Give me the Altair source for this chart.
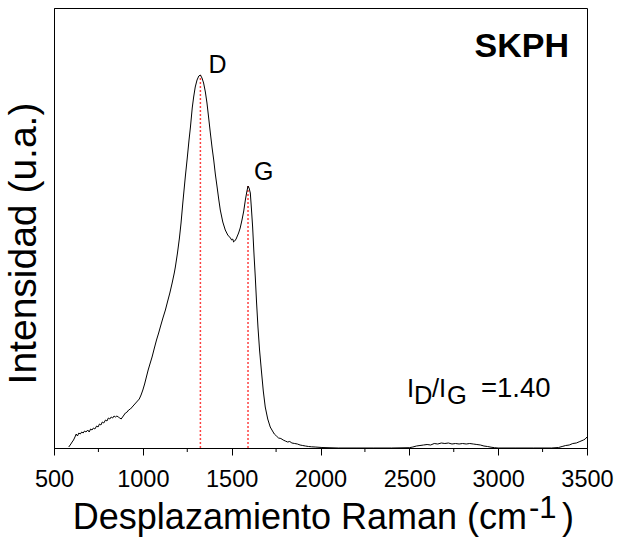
import altair as alt
import pandas as pd

# ---- data ----
wavenumber = [583, 595, 602, 610, 618, 625, 632, 640, 648, 656, 664, 672, 680, 690, 698,
              706, 714, 722, 730, 740, 748, 756, 764, 772, 780, 790, 798, 806, 814, 822,
              830, 838, 846, 854, 862, 870, 878, 886, 894, 902, 912, 920, 930, 940, 950,
              960, 970, 980, 990, 1000, 1010, 1020, 1030, 1040, 1052, 1065, 1077, 1089,
              1100, 1113, 1127, 1140, 1152, 1165, 1177, 1183, 1195, 1206, 1215, 1225, 1239,
              1250, 1260, 1268, 1278, 1286, 1295, 1305, 1315, 1324, 1333, 1342, 1352, 1361,
              1370, 1380, 1390, 1399, 1408, 1418, 1427, 1436, 1450, 1464, 1478, 1493, 1500,
              1506, 1511, 1517, 1525, 1539, 1548, 1558, 1568, 1577, 1585, 1592, 1598, 1605,
              1611, 1618, 1625, 1633, 1640, 1648, 1657, 1667, 1678, 1689, 1703, 1717, 1730,
              1740, 1752, 1764, 1777, 1790, 1802, 1815, 1827, 1839, 1855, 1870, 1885, 1900,
              1915, 1933, 1950, 1970, 2008, 2100, 2200, 2300, 2400, 2500, 2520, 2540, 2560,
              2580, 2600, 2620, 2640, 2660, 2680, 2700, 2720, 2740, 2760, 2780, 2800, 2820,
              2840, 2860, 2880, 2900, 2920, 2940, 2960, 2980, 3000, 3100, 3200, 3300, 3340,
              3360, 3380, 3400, 3420, 3440, 3460, 3480, 3490, 3500]
intensity = [1, 4, 6, 8, 11, 14, 12, 15, 14, 16, 15, 17, 16, 18, 16,
             19, 18, 20, 19, 22, 21, 24, 23, 26, 25, 28, 27, 30, 29, 31,
             30, 32, 31, 32, 31, 30, 29, 31, 33, 35, 36, 38, 39, 41, 43,
             45, 47, 49, 53, 58, 64, 71, 78, 84, 91, 100, 108, 115,
             122, 130, 138, 147, 155, 165, 175, 181, 195, 210, 225, 245, 271,
             290, 308, 321, 340, 351, 361, 368, 372, 373, 370, 365, 356, 345,
             331, 315, 300, 288, 274, 261, 249, 238, 226, 218, 213, 210, 208,
             209, 206, 207, 209, 215, 220, 228, 237, 248, 256, 262, 260, 255,
             240, 221, 196, 171, 146, 121, 98, 78, 57, 41, 29, 21, 17,
             14, 12, 10, 9.5, 8, 7, 6, 6.5, 5, 4.5, 4, 3, 2.5,
             2, 1.5, 1.2, 1, 0.5, 0, 0, 0, 0, 0.3, 1, 2, 2.5,
             3, 3.5, 3, 4.5, 4, 5, 4.5, 5, 4, 4.5, 4, 4.5, 4,
             4.5, 4, 3.5, 3, 2, 1.5, 0.8, 0.3, 0, 0, 0, 0, 0.5,
             1.5, 2.5, 3, 4.5, 5, 6.5, 8, 9, 11]

peak_labels = ["D", "G"]
peak_pos = [1324, 1592]
peak_int = [373, 262]

major_ticks = [500, 1000, 1500, 2000, 2500, 3000, 3500]
minor_ticks = [750, 1250, 1750, 2250, 2750, 3250]

FONT = "Liberation Sans"
W, H = 533, 440

spec = pd.DataFrame({"w": wavenumber, "i": intensity})
peaks = pd.DataFrame({"label": peak_labels, "w": peak_pos, "i": peak_int, "base": [0, 0]})
minors = pd.DataFrame({"w": minor_ticks, "i": [0] * len(minor_ticks)})

xs = alt.Scale(domain=[500, 3500], nice=False, zero=False)
ys = alt.Scale(domain=[0, 440], nice=False, zero=False)

xaxis = alt.Axis(
    values=major_ticks, title=None, format="d", tickSize=7, tickColor="black",
    tickWidth=1, domainColor="black", domainWidth=1, labelFont=FONT,
    labelFontSize=23.5, labelColor="black", labelPadding=12, grid=False,
    labelFlush=False, labelOverlap=False)
yaxis = alt.Axis(
    title="Intensidad (u.a.)", labels=False, ticks=False, grid=False,
    domainColor="black", domainWidth=1, titleFont=FONT, titleFontSize=39,
    titleFontWeight="normal", titleColor="black", titlePadding=11, titleY=235)


def X(f):
    return alt.X(f, scale=xs, axis=xaxis)


def Y(f):
    return alt.Y(f, scale=ys, axis=yaxis)


line = alt.Chart(spec).mark_line(color="black", strokeWidth=1).encode(
    x=X("w:Q"), y=Y("i:Q"), order="w:Q",
)

rules = alt.Chart(peaks).mark_rule(color="#ff4040", strokeWidth=1.5, strokeDash=[2, 2]).encode(
    x=X("w:Q"), y=Y("base:Q"), y2="i:Q",
)


def peak_label(idx, dx, dy):
    sub = peaks.iloc[[idx]]
    return alt.Chart(sub).mark_text(
        font=FONT, fontSize=25, color="black", align="left", baseline="alphabetic",
        dx=dx, dy=dy
    ).encode(x=X("w:Q"), y=Y("i:Q"), text="label:N")


minor = alt.Chart(minors).mark_rule(color="black", strokeWidth=1).encode(
    x=X("w:Q"),
    y=alt.value(H),
    y2=alt.value(H + 4),
)


def txt(s, x, y, size, align="left", weight="normal"):
    return alt.Chart(pd.DataFrame({"t": [s]})).mark_text(
        font=FONT, fontSize=size, fontWeight=weight, color="black",
        align=align, baseline="alphabetic"
    ).encode(x=alt.value(x), y=alt.value(y), text="t:N")


title_main = txt("Desplazamiento Raman (cm", 473, 521, 36, align="right")
title_sup = txt("-1", 475, 510, 31)
title_close = txt(")", 508, 521, 36)

skph = txt("SKPH", 515, 49, 34, align="right", weight="bold")

ratio = alt.layer(
    txt("I", 353, 389, 25.5),
    txt("D", 360, 396, 25.5),
    txt("/I", 378, 389, 25.5),
    txt("G", 393, 396, 25.5),
    txt("=1.40", 427, 389, 27.5),
)

chart = alt.layer(
    rules, line, minor, peak_label(0, 8, -2), peak_label(1, 6, -6),
    title_main, title_sup, title_close, skph, ratio
).properties(
    width=W, height=H,
    padding={"left": 54, "top": 8, "right": 31, "bottom": 94},
    autosize=alt.AutoSizeParams(type="none"),
    background="white",
).configure_view(
    stroke="black", strokeWidth=1
)

chart.save("out.html", embed_options={"renderer": "svg", "actions": False})
